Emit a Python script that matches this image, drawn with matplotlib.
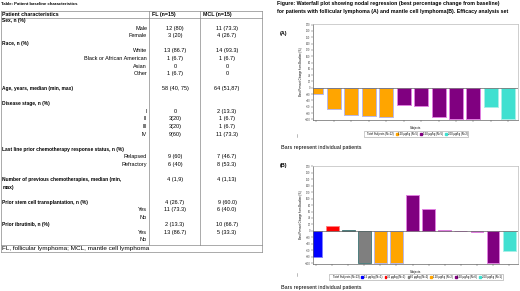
import matplotlib
matplotlib.use("Agg")
import matplotlib.pyplot as plt
from matplotlib.patches import Patch

plt.rcParams['font.family'] = ['Liberation Sans', 'DejaVu Sans']

# ---- table data ----
row_labels = ["Sex, n (%)", "Male", "Female", "Race, n (%)", "White",
              "Black or African American", "Asian", "Other", "",
              "Age, years, median (min, max)", "", "Disease stage, n (%)",
              "I", "II", "III", "IV", "",
              "Last line prior chemotherapy response status, n (%)",
              "Relapsed", "Refractory", "",
              "Number of previous chemotherapies, median (min,", "max)", "",
              "Prior stem cell transplantation, n (%)", "Yes", "No",
              "Prior ibrutinib, n (%)", "Yes", "No"]
head_rows = [0, 3, 9, 11, 17, 21, 22, 24, 27]
fl_col = ["", "12 (80)", "3 (20)", "", "13 (86.7)", "1 (6.7)", "0", "1 (6.7)", "",
          "58 (40, 75)", "", "", "0", "3(20)", "3(20)", "9(60)", "", "",
          "9 (60)", "6 (40)", "", "4 (1,9)", "", "", "4 (26.7)", "11 (73.3)", "",
          "2 (13.3)", "13 (86.7)", ""]
mcl_col = ["", "11 (73.3)", "4 (26.7)", "", "14 (93.3)", "1 (6.7)", "0", "0", "",
           "64 (51,87)", "", "", "2 (13.3)", "1 (6.7)", "1 (6.7)", "11 (73.3)", "", "",
           "7 (46.7)", "8 (53.3)", "", "4 (1,13)", "", "", "9 (60.0)", "6 (40.0)", "",
           "10 (66.7)", "5 (33.3)", ""]

# ---- waterfall data ----
a_pct = [-20, -66, -86, -89, -92, -54, -58, -92, -100, -100, -61, -100]
a_dose = ["120", "120", "120", "120", "120", "150", "150", "150", "150", "150", "200", "200"]
b_pct = [-80, 16, 3, -100, -100, -100, 111, 67, 3, -1, -4, -100, -63]
b_dose = ["15", "30", "60", "60", "120", "120", "150", "150", "150", "150", "150", "150", "200"]

dose_fill = {"15": "#0000ff", "30": "#ff0000", "60": "#7f7f7f", "120": "#ffa500",
             "150": "#800080", "200": "#40e0d0"}
dose_edge = {"15": "#8080ff", "30": "#ff8080", "60": "#4f7f7f", "120": "#b8b8e8",
             "150": "#e080e0", "200": "#a8f0e8"}

W, H = 520, 291
fig = plt.figure(figsize=(W / 100, H / 100), dpi=100)
bg = fig.add_axes([0, 0, 1, 1])
bg.set_xlim(0, W)
bg.set_ylim(H, 0)
bg.axis("off")

bfs = 3.5   # bold headings
rfs = 4.0   # regular cells
bg.text(1, 4, "Table: Patient baseline characteristics", fontsize=3.05, weight="bold", va="center")

# table frame
x0, x1, x2, x3 = 1, 149, 200, 262
top, hbot, fbot, bot = 11, 17.5, 244.5, 252
lk = dict(color="#888888", lw=0.5)
for y in (top, hbot, fbot, bot):
    bg.plot([x0, x3], [y, y], **lk)
for x in (x0, x3):
    bg.plot([x, x], [top, bot], **lk)
for x in (x1, x2):
    bg.plot([x, x], [top, fbot], **lk)
bg.text(2.5, 14.3, "Patient characteristics", fontsize=3.8, weight="bold", va="center")
bg.text(151.5, 14.3, "FL (n=15)", fontsize=3.8, weight="bold", va="center")
bg.text(203, 14.3, "MCL (n=15)", fontsize=3.8, weight="bold", va="center")

step = 7.56
for i, lab in enumerate(row_labels):
    y = 20.7 + i * step
    if i in head_rows:
        bg.text(2.5, y, lab, fontsize=bfs, weight="bold", va="center")
    else:
        bg.text(147, y, lab, fontsize=rfs, ha="right", va="center")
    bg.text(175, y, fl_col[i], fontsize=rfs, ha="center", va="center")
    bg.text(227, y, mcl_col[i], fontsize=rfs, ha="center", va="center")
bg.text(2.5, 248.3, "FL, follicular lymphoma; MCL, mantle cell lymphoma", fontsize=4.6, va="center")

# right side titles
tfs = 3.8
bg.text(277, 4, "Figure: Waterfall plot showing nodal regression (best percentage change from baseline)",
        fontsize=tfs, weight="bold", va="center")
bg.text(277, 11, "for patients with follicular lymphoma (A) and mantle cell lymphoma(B). Efficacy analysis set",
        fontsize=tfs, weight="bold", va="center")
bg.text(280, 33, "(A)", fontsize=3.9, weight="bold", va="center")
bg.text(280, 165, "(B)", fontsize=3.9, weight="bold", va="center")
bg.text(281, 148, "Bars represent individual patients", fontsize=3.9, va="center")
bg.text(281, 287, "Bars represent individual patients", fontsize=3.9, va="center")
bg.plot([297, 297], [134, 137], color="#888888", lw=0.4)
bg.plot([297, 297], [273, 276], color="#888888", lw=0.4)


def waterfall(rect, pct, dose, n_total, leg_y):
    ax = fig.add_axes(rect)
    xs = range(len(pct))
    ax.bar(xs, pct, width=0.8, color=[dose_fill[d] for d in dose],
           edgecolor=[dose_edge[d] for d in dose], linewidth=0.7, zorder=2)
    ax.axhline(0, color="#606060", lw=0.5, zorder=3)
    ax.set_ylim(-102, 202)
    ax.set_xlim(-0.17, len(pct) - 0.45)
    ax.set_yticks(range(-100, 201, 20))
    ax.set_xticks(list(xs))
    ax.set_xticklabels([])
    ax.tick_params(labelsize=1.9, length=1.2, width=0.3, pad=0.8, colors="#444444")
    for s in ax.spines.values():
        s.set_color("#bbbbbb")
        s.set_linewidth(0.5)
    ax.spines["left"].set_color("#666666")
    ax.spines["bottom"].set_color("#666666")
    ax.set_xlabel("Subjects", fontsize=2.1, labelpad=2.5)
    ax.set_ylabel("Best Percent Change from Baseline (%)", fontsize=2.0, labelpad=1.5)
    doses = []
    for d in dose:
        if d not in doses:
            doses.append(d)
    handles = [Patch(facecolor="white", edgecolor="white")]
    labels = ["Total Subjects (N=%d)" % n_total]
    for d in doses:
        handles.append(Patch(facecolor=dose_fill[d], edgecolor=dose_fill[d]))
        labels.append("%s \u00b5g/kg (N=%d)" % (d, dose.count(d)))
    leg = fig.legend(handles, labels, loc="center", bbox_to_anchor=(0.8, leg_y),
                     ncol=len(labels), fontsize=2.0, handlelength=0.6, handleheight=0.6,
                     handletextpad=0.3, columnspacing=0.8, borderpad=0.3, fancybox=False)
    leg.get_frame().set_edgecolor("#888888")
    leg.get_frame().set_linewidth(0.4)
    return ax


waterfall([313.3 / W, 1 - 120 / H, (518 - 313.3) / W, 96 / H], a_pct, a_dose, len(a_pct), 1 - 134 / H)
waterfall([313.3 / W, 1 - 264 / H, (518 - 313.3) / W, 98.5 / H], b_pct, b_dose, len(b_pct), 1 - 277.3 / H)

fig.savefig("out.png", dpi=100)
